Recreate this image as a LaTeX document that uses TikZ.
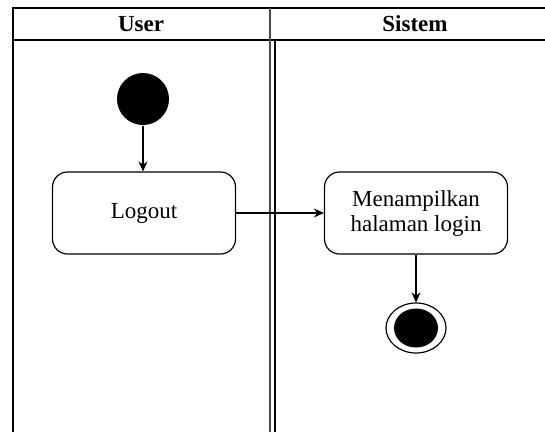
\documentclass[tikz,border=0pt]{standalone}
\usepackage{fontspec}
\setmainfont{Liberation Serif}
\usetikzlibrary{shapes,arrows.meta}

\begin{document}
\begin{tikzpicture}[x=1pt,y=-1pt,line width=1.2pt]
		\useasboundingbox (0,0) rectangle (545,432);
		% lanes
		\draw (545,8) -- (13,8) -- (13,432);
		\draw (13,40) -- (545,40);
		\draw[black!70,line width=1.6pt] (270,8) -- (270,432);
		\draw (275,40) -- (275,432);
		\begin{scope}
            [
                every node/.style={font=\fontsize{23}{25}\selectfont},
				activity/.style = {draw, rounded corners=15pt, minimum width=183pt, minimum height=82pt, align=center},
				startnode/.style = {circle, fill=black, minimum size=52pt, inner sep=0pt},
				endnode/.style = {ellipse, draw, minimum width=60pt, minimum height=50pt, inner sep=0pt}
            ]
            
			\node(user) at (141,24) {\bfseries User};
			\node(sistem) at (415,24) {\bfseries Sistem};
			
			\node(start)[startnode] at (143,99) {};
			\node(logout)[activity] at (144,213) {Logout};
			\node(halaman)[activity] at (416,213) {Menampilkan\\halaman login};
			\node(end)[endnode] at (416,328) {};
			\node(endin)[ellipse, fill=black, minimum width=44pt, minimum height=39pt, inner sep=0pt] at (end) {};

		\end{scope}
		\begin{scope}
            [>={Stealth[black,length=10pt,width=9pt]},
                every edge/.style={draw=black,->},
            ]
            \path 
            (start)   edge (start |- logout.north)
			(logout)  edge (halaman)
			(halaman) edge (end);
		\end{scope}
    \end{tikzpicture}
\end{document}
